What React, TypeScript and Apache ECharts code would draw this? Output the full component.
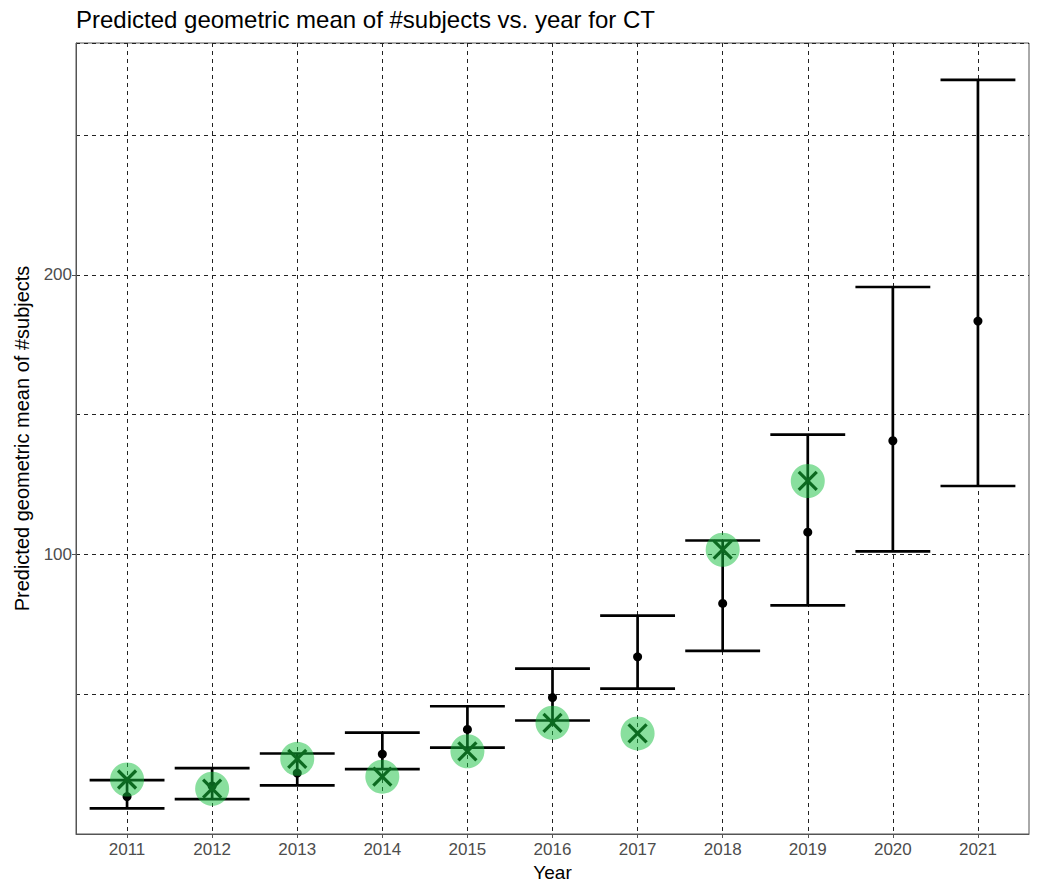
import React, { useEffect, useRef } from "react";
import * as echarts from "echarts";

// Years on the x axis
const years = [2011, 2012, 2013, 2014, 2015, 2016, 2017, 2018, 2019, 2020, 2021];
// Model prediction (geometric mean) with its interval bounds
const predicted = [13.4, 17.2, 21.8, 28.6, 37.4, 48.8, 63.4, 82.5, 108.0, 140.7, 183.5];
const lower = [9.2, 12.5, 17.4, 23.2, 30.9, 40.6, 52.0, 65.5, 81.8, 101.1, 124.5];
const upper = [19.3, 23.6, 28.8, 36.3, 45.7, 59.2, 78.1, 105.0, 142.9, 195.7, 269.8];
// Observed geometric mean (no observations for the last two years)
const observed: (number | null)[] = [19.5, 16.2, 26.9, 20.5, 29.6, 39.8, 36.0, 101.7, 126.3, null, null];
// Labelled y ticks
const yTickLabels = [100, 200];

const FONT = "'Liberation Sans', Arial, sans-serif";

export default function App() {
  const ref = useRef<HTMLDivElement>(null);

  useEffect(() => {
    if (!ref.current) return;
    const chart = echarts.init(ref.current, undefined, { renderer: "svg" });

    const barData = years.map((y, i) => [y, lower[i], upper[i]]);
    const predData = years.map((y, i) => [y, predicted[i]]);
    const obsData = years
      .map((y, i) => [y, observed[i]])
      .filter((d) => d[1] !== null);

    const gridLine = { show: true, lineStyle: { color: "#222", width: 1, type: [4, 4] as any } };

    chart.setOption({
      animation: false,
      backgroundColor: "#fff",
      title: {
        text: "Predicted geometric mean of #subjects vs. year for CT",
        left: 76,
        top: 7,
        padding: 0,
        textStyle: { fontFamily: FONT, fontSize: 24, fontWeight: "normal", color: "#000" },
      },
      grid: {
        left: 76,
        top: 43,
        right: 9,
        bottom: 53,
        show: true,
        borderColor: "#555",
        borderWidth: 1,
        backgroundColor: "transparent",
      },
      xAxis: {
        type: "value",
        min: 2010.4,
        max: 2021.6,
        name: "Year",
        nameLocation: "middle",
        nameGap: 28,
        nameTextStyle: { fontFamily: FONT, fontSize: 19, color: "#000" },
        axisLine: { show: true, lineStyle: { color: "#555", width: 1 } },
        axisTick: { show: true, length: 4, lineStyle: { color: "#555" }, customValues: years },
        axisLabel: {
          fontFamily: FONT,
          fontSize: 17,
          color: "#4d4d4d",
          margin: 7,
          customValues: years,
          formatter: (v: number) => String(v),
        },
        splitLine: gridLine,
      },
      yAxis: [
        {
          type: "value",
          position: "left",
          min: 0,
          max: 283,
          name: "Predicted geometric mean of #subjects",
          nameLocation: "middle",
          nameGap: 44,
          nameTextStyle: { fontFamily: FONT, fontSize: 20, color: "#000" },
          axisLine: { show: true, lineStyle: { color: "#555", width: 1 } },
          axisTick: { show: true, length: 4, lineStyle: { color: "#555" }, customValues: yTickLabels },
          axisLabel: {
            fontFamily: FONT,
            fontSize: 17,
            color: "#4d4d4d",
            margin: 4,
            customValues: yTickLabels,
          },
          splitLine: { show: false },
        },
        {
          type: "value",
          position: "left",
          min: 0,
          max: 283,
          interval: 50,
          axisLine: { show: false },
          axisTick: { show: false },
          axisLabel: { show: false },
          splitLine: gridLine,
        },
      ],
      series: [
        {
          type: "custom",
          name: "interval",
          z: 2,
          data: barData,
          encode: { x: 0, y: [1, 2] },
          renderItem: (params: any, api: any) => {
            const x = api.value(0);
            const lo = api.coord([x, api.value(1)]);
            const hi = api.coord([x, api.value(2)]);
            const half = api.size([1, 0])[0] * 0.44;
            const style = { stroke: "#000", lineWidth: 2.7, fill: "none" };
            return {
              type: "group",
              children: [
                { type: "line", shape: { x1: lo[0], y1: lo[1], x2: hi[0], y2: hi[1] }, style },
                { type: "line", shape: { x1: lo[0] - half, y1: lo[1], x2: lo[0] + half, y2: lo[1] }, style },
                { type: "line", shape: { x1: hi[0] - half, y1: hi[1], x2: hi[0] + half, y2: hi[1] }, style },
              ],
            };
          },
        },
        {
          type: "scatter",
          name: "predicted",
          z: 3,
          data: predData,
          symbol: "circle",
          symbolSize: 9,
          itemStyle: { color: "#000", opacity: 1 },
        },
        {
          type: "scatter",
          name: "observed",
          z: 4,
          data: obsData,
          symbol: "circle",
          symbolSize: 34,
          itemStyle: { color: "rgba(20,192,62,0.5)", opacity: 1 },
        },
        {
          type: "custom",
          name: "observed-cross",
          z: 5,
          data: obsData,
          encode: { x: 0, y: 1 },
          renderItem: (params: any, api: any) => {
            const p = api.coord([api.value(0), api.value(1)]);
            const r = 9;
            const style = { stroke: "#0c6a20", lineWidth: 3.2, fill: "none" };
            return {
              type: "group",
              children: [
                { type: "line", shape: { x1: p[0] - r, y1: p[1] - r, x2: p[0] + r, y2: p[1] + r }, style },
                { type: "line", shape: { x1: p[0] - r, y1: p[1] + r, x2: p[0] + r, y2: p[1] - r }, style },
              ],
            };
          },
        },
      ],
    });

    return () => chart.dispose();
  }, []);

  return (
    <div
      ref={ref}
      style={{ position: "fixed", left: 0, top: 0, width: 1038, height: 887, background: "#fff" }}
    />
  );
}
